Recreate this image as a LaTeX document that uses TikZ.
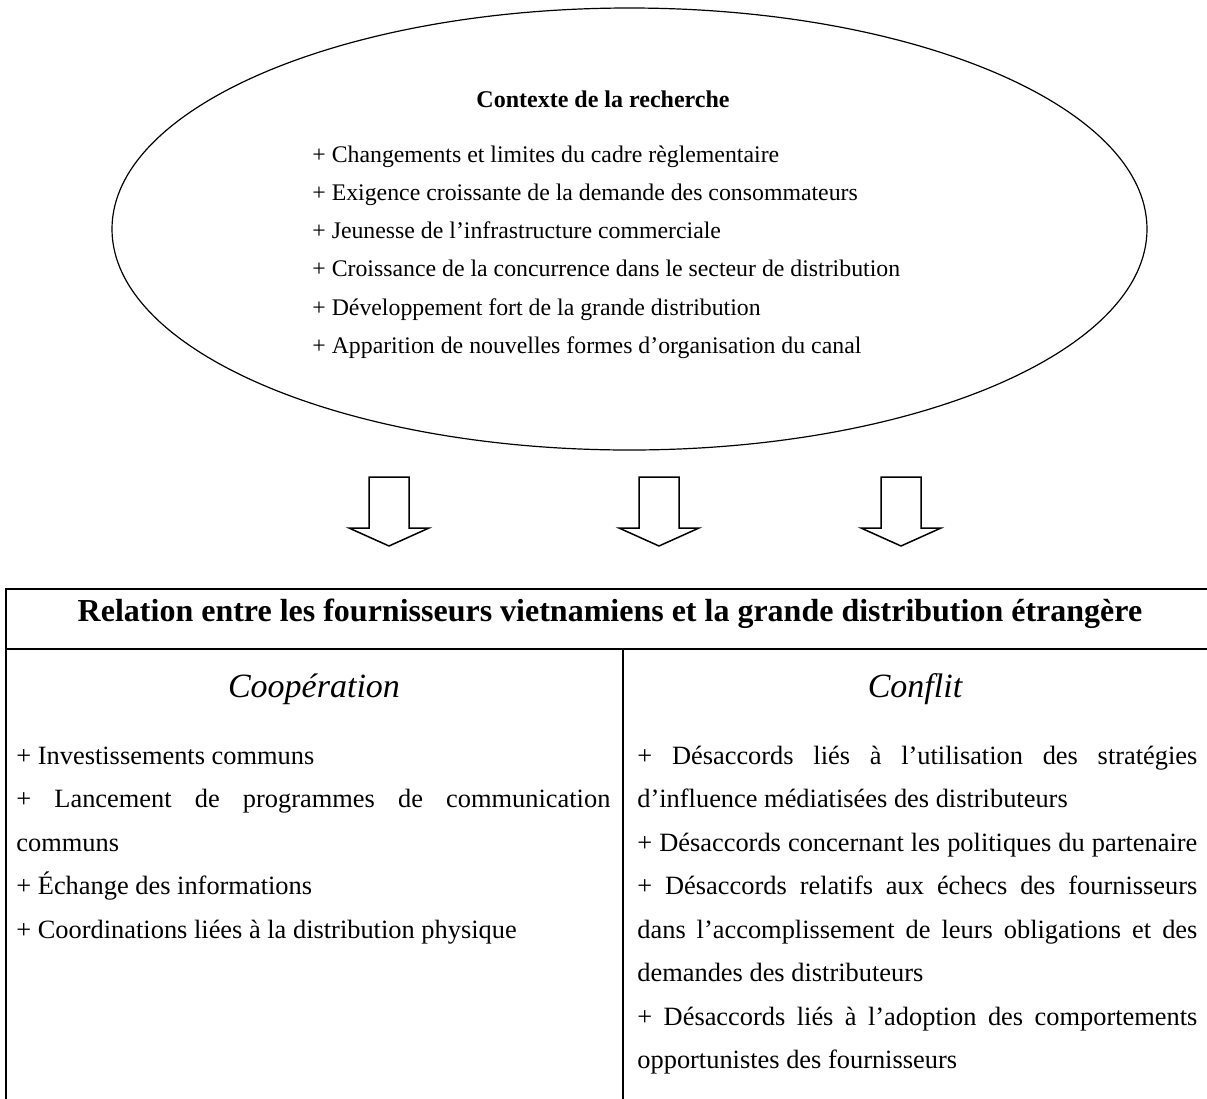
\documentclass[tikz,border=0pt]{standalone}
\usepackage{fontspec}
\setmainfont{Liberation Serif}
\usetikzlibrary{positioning}

\tikzset{
  ctx/.style={line width=0.6pt},
  arr/.style={line width=0.75pt, line join=miter},
  tab/.style={line width=1pt},
  item/.style={font=\fontsize{11.9}{14}\selectfont, inner sep=0pt},
  cell/.style={font=\fontsize{13.2}{15}\selectfont, inner sep=0pt, anchor=base west},
  ctxtitle/.style={font=\bfseries\fontsize{12}{14}\selectfont, inner sep=0pt},
  tabtitle/.style={font=\bfseries\fontsize{16}{18}\selectfont, inner sep=0pt},
  coltitle/.style={font=\itshape\fontsize{17}{19}\selectfont, inner sep=0pt}
}
\newcommand{\justline}[2]{\makebox[#1][s]{#2}}

\begin{document}
\begin{tikzpicture}[x=0.5pt,y=-0.5pt]
\useasboundingbox (0,0) rectangle (1207,1099);

% context of the research
\draw[ctx] (629.5,229) ellipse (517.5 and 221);
\node[ctxtitle, anchor=base] (ctxhead) at (603,107) {Contexte de la recherche};
\foreach \txt [count=\i] in {Changements et limites du cadre règlementaire,
    Exigence croissante de la demande des consommateurs,
    Jeunesse de l’infrastructure commerciale,
    Croissance de la concurrence dans le secteur de distribution,
    Développement fort de la grande distribution,
    Apparition de nouvelles formes d’organisation du canal}
  \node[item, anchor=base west] (ctx\i) at (312,{124+38.2*\i}) {+ \txt};

% three block arrows
\foreach \ax [count=\i] in {389,659,901}
  \draw[arr] ({\ax-20},477) -- ({\ax+20},477) -- ({\ax+20},528) -- ({\ax+40},528)
    -- (\ax,546) -- ({\ax-40},528) -- ({\ax-20},528) -- cycle;

% table
\draw[tab] (1207,589) -- (6,589) -- (6,1099);
\draw[tab] (6,649) -- (1207,649);
\draw[tab] (623,649) -- (623,1099);

\node[tabtitle, anchor=base] (reltitle) at (610,621) {Relation entre les fournisseurs vietnamiens et la grande distribution étrangère};
\node[coltitle, anchor=base] (coop) at (314,697) {Coopération};
\node[coltitle, anchor=base] (conf) at (915,697) {Conflit};

% cooperation
\node[cell] (coop1) at (16,764) {+ Investissements communs};
\node[cell] (coop2) at (16,807.5) {\justline{297pt}{+ Lancement de programmes de communication}};
\node[cell] (coop3) at (16,851) {communs};
\node[cell] (coop4) at (16,894.5) {+ Échange des informations};
\node[cell] (coop5) at (16,938) {+ Coordinations liées à la distribution physique};

% conflict
\node[cell] (conf1) at (637,764) {\justline{280pt}{+ Désaccords liés à l’utilisation des stratégies}};
\node[cell] (conf2) at (637,807.5) {d’influence médiatisées des distributeurs};
\node[cell] (conf3) at (637,851) {\justline{280pt}{+ Désaccords concernant les politiques du partenaire}};
\node[cell] (conf4) at (637,894.5) {\justline{280pt}{+ Désaccords relatifs aux échecs des fournisseurs}};
\node[cell] (conf5) at (637,938) {\justline{280pt}{dans l’accomplissement de leurs obligations et des}};
\node[cell] (conf6) at (637,981.5) {demandes des distributeurs};
\node[cell] (conf7) at (637,1025) {\justline{280pt}{+ Désaccords liés à l’adoption des comportements}};
\node[cell] (conf8) at (637,1068.5) {opportunistes des fournisseurs};
\end{tikzpicture}
\end{document}
